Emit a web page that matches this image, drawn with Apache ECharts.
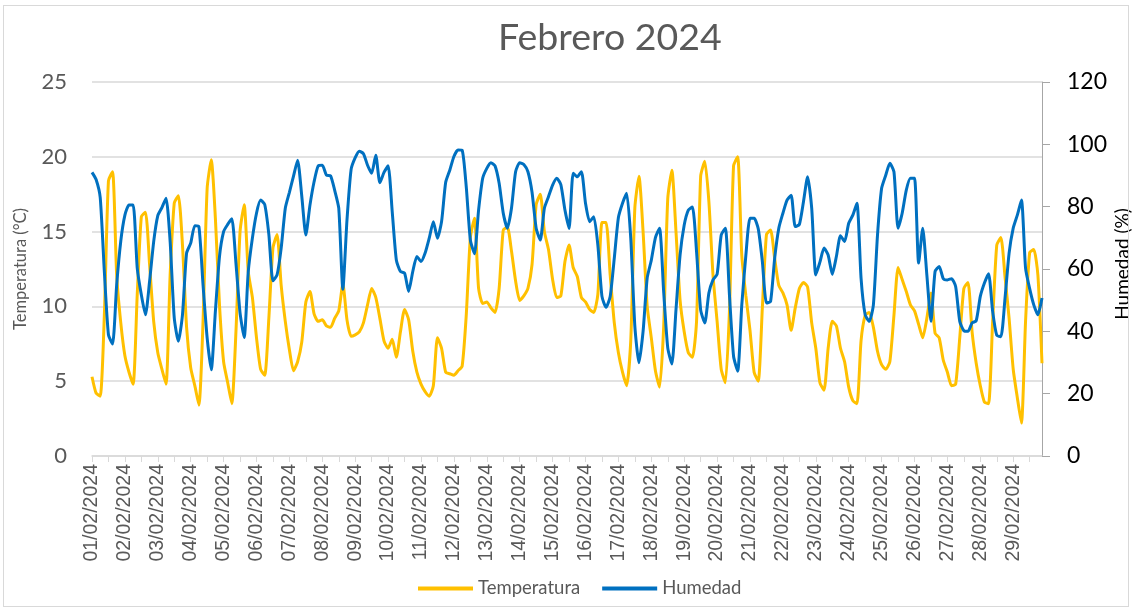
<!DOCTYPE html>
<html>
<head>
<meta charset="UTF-8">
<title>Febrero 2024</title>
<style>
  body { margin: 0; padding: 0; background: #fff; }
  #chart { position: absolute; left: 0; top: 0; width: 1132px; height: 610px; }
  #frame { position: absolute; left: 3px; top: 5px; width: 1126px; height: 602px; border: 1px solid #d9d9d9; box-sizing: border-box; pointer-events: none; }
</style>
</head>
<body>
<div id="chart"></div>
<div id="frame"></div>
<script src="https://cdn.jsdelivr.net/npm/echarts@6/dist/echarts.min.js"></script>
<script>
// dias del mes y horas de lectura (cada 3 h)
var dias = ['01','02','03','04','05','06','07','08','09','10','11','12','13','14','15',
            '16','17','18','19','20','21','22','23','24','25','26','27','28','29'];
var horas = ['00:00','03:00','06:00','09:00','12:00','15:00','18:00','21:00'];

// temperatura (°C), una fila por dia
var temperatura = [
  5.3, 4.2, 4.0, 9.4, 18.4, 19.0, 12.1, 8.9,
  6.7, 5.6, 4.8, 10.8, 16.0, 16.3, 12.8, 9.0,
  6.9, 5.8, 4.8, 12.1, 16.9, 17.4, 14.1, 8.6,
  5.9, 4.7, 3.4, 9.0, 17.9, 19.8, 15.9, 10.1,
  6.3, 4.9, 3.5, 8.3, 15.0, 16.8, 12.3, 10.6,
  7.9, 5.8, 5.4, 9.2, 13.9, 14.8, 11.4, 9.0,
  7.1, 5.7, 6.3, 7.6, 10.3, 11.0, 9.5, 9.0,
  9.1, 8.7, 8.6, 9.2, 9.7, 11.5, 9.1, 8.0,
  8.1, 8.3, 8.9, 10.1, 11.2, 10.6, 9.2, 7.7,
  7.2, 7.8, 6.6, 8.3, 9.8, 9.1, 7.0, 5.6,
  4.8, 4.3, 4.0, 4.7, 7.9, 7.2, 5.6, 5.5,
  5.4, 5.7, 6.0, 9.4, 14.6, 15.9, 11.2, 10.2,
  10.3, 9.9, 9.6, 11.2, 15.1, 15.3, 13.7, 11.7,
  10.4, 10.7, 11.2, 12.8, 16.8, 17.5, 15.0, 13.8,
  11.8, 10.6, 10.7, 13.0, 14.1, 12.6, 12.0, 10.6,
  10.3, 9.8, 9.6, 10.8, 15.6, 15.6, 12.1, 8.9,
  6.9, 5.6, 4.7, 7.7, 16.6, 18.7, 15.0, 10.0,
  7.9, 5.7, 4.6, 8.6, 17.2, 19.1, 15.0, 10.4,
  8.3, 6.9, 6.6, 9.0, 18.7, 19.7, 17.0, 12.1,
  9.0, 5.8, 4.9, 9.7, 19.4, 20.0, 13.4, 10.7,
  8.4, 5.6, 5.0, 9.9, 14.8, 15.1, 13.2, 11.4,
  10.9, 10.1, 8.4, 9.9, 11.2, 11.6, 11.3, 8.9,
  7.2, 4.9, 4.4, 7.2, 9.0, 8.7, 7.2, 6.3,
  4.6, 3.7, 3.5, 7.7, 9.4, 9.6, 8.6, 7.0,
  6.1, 5.8, 6.3, 9.4, 12.6, 11.8, 11.0, 10.1,
  9.7, 8.8, 7.9, 9.2, 10.9, 8.2, 7.9, 6.4,
  5.6, 4.7, 4.8, 7.9, 11.2, 11.6, 8.3, 6.2,
  4.7, 3.6, 3.5, 9.0, 14.1, 14.6, 12.0, 9.2,
  5.8, 3.9, 2.2, 9.0, 13.6, 13.8, 12.1, 6.2
];

// humedad relativa (%), una fila por dia
var humedad = [
  91.0, 88.7, 82.9, 59.2, 38.9, 35.9, 54.9, 69.0,
  77.3, 80.5, 80.5, 60.3, 51.7, 45.3, 56.0, 68.8,
  77.1, 79.7, 82.7, 68.8, 44.3, 36.8, 45.3, 65.1,
  68.3, 73.9, 73.6, 54.9, 37.9, 27.7, 46.4, 64.0,
  72.0, 74.3, 76.1, 61.9, 45.9, 38.0, 59.2, 69.9,
  77.9, 82.1, 80.7, 71.1, 56.2, 58.1, 66.7, 79.5,
  84.6, 89.8, 94.9, 83.5, 70.9, 80.5, 88.0, 93.1,
  93.3, 90.1, 89.9, 85.3, 79.5, 53.5, 75.7, 91.9,
  95.7, 97.8, 97.0, 93.3, 90.7, 96.5, 87.7, 91.0,
  93.1, 78.4, 62.9, 59.2, 58.7, 52.8, 59.2, 64.0,
  62.4, 65.1, 69.9, 75.2, 69.9, 75.2, 87.8, 91.7,
  96.1, 98.2, 98.1, 86.4, 69.3, 64.9, 78.9, 89.1,
  92.3, 94.1, 93.1, 87.5, 77.9, 73.1, 79.5, 91.2,
  94.1, 93.5, 91.2, 84.6, 73.1, 69.3, 79.5, 83.2,
  86.9, 89.1, 87.1, 78.9, 73.0, 90.7, 89.6, 91.2,
  81.1, 75.2, 76.8, 67.7, 51.2, 47.7, 51.2, 63.5,
  76.5, 81.1, 84.3, 69.9, 41.6, 29.9, 40.0, 57.1,
  62.8, 70.1, 73.1, 52.8, 34.7, 29.5, 46.9, 64.5,
  74.1, 78.9, 79.9, 65.6, 46.9, 42.7, 52.3, 56.5,
  58.3, 70.9, 73.1, 51.7, 32.0, 27.2, 48.5, 64.5,
  76.3, 76.3, 72.9, 62.4, 49.1, 49.6, 63.5, 73.1,
  77.9, 82.1, 83.7, 73.6, 74.3, 81.6, 89.6, 79.5,
  58.1, 62.2, 66.7, 64.5, 58.3, 64.0, 70.7, 68.8,
  74.7, 77.3, 81.1, 57.1, 45.3, 43.2, 48.5, 70.9,
  85.9, 90.1, 93.9, 91.2, 73.1, 77.9, 85.3, 89.1,
  89.1, 61.9, 73.1, 58.1, 43.2, 59.2, 60.8, 56.9,
  56.5, 56.9, 54.4, 43.2, 40.2, 40.0, 42.7, 43.4,
  51.2, 55.5, 58.5, 46.4, 38.7, 38.3, 50.5, 65.1,
  73.1, 77.3, 82.1, 60.3, 53.7, 48.5, 45.3, 50.7
];

var categorias = [];
dias.forEach(function (d) {
  horas.forEach(function (h) {
    categorias.push(d + '/02/2024 ' + h);
  });
});

var chart = echarts.init(document.getElementById('chart'));

var option = {
  animation: false,
  textStyle: { fontFamily: 'Lato' },
  title: {
    text: 'Febrero 2024',
    left: 493,
    top: 14,
    textStyle: { fontSize: 37.5, fontWeight: 'normal', color: '#595959', fontFamily: 'Lato' }
  },
  legend: {
    data: ['Temperatura', 'Humedad'],
    bottom: 7,
    left: 413,
    icon: 'rect',
    itemWidth: 55,
    itemHeight: 4,
    itemGap: 22,
    textStyle: { fontSize: 18.5, color: '#595959', fontFamily: 'Lato' }
  },
  // titulo del eje derecho, puesto a mano
  graphic: [{
    type: 'text',
    x: 1123,
    y: 264,
    rotation: Math.PI / 2,
    style: {
      text: 'Humedad (%)',
      fontSize: 19,
      fontFamily: 'Lato',
      fill: '#000',
      textAlign: 'center',
      textVerticalAlign: 'middle'
    }
  }],
  grid: { left: 92, right: 90, top: 82, bottom: 154, outerBoundsMode: 'none' },
  xAxis: {
    type: 'category',
    boundaryGap: false,
    data: categorias,
    axisLine: { lineStyle: { color: '#d9d9d9', width: 1.5 } },
    axisTick: {
      show: true,
      interval: function (i) { return i % 4 === 0; },
      length: 6,
      lineStyle: { color: '#d9d9d9' }
    },
    axisLabel: {
      interval: function (i) { return i % 8 === 0; },
      rotate: 90,
      margin: 8,
      fontSize: 19.5,
      color: '#595959',
      fontFamily: 'Liberation Sans',
      formatter: function (v) { return v.slice(0, 10); }
    }
  },
  yAxis: [
    {
      type: 'value',
      min: 0, max: 25, interval: 5,
      name: 'Temperatura (°C)',
      nameLocation: 'middle',
      nameRotate: 90,
      nameGap: 63,
      nameTextStyle: { fontSize: 16.5, color: '#595959' },
      axisLine: { show: false },
      axisTick: { show: false },
      axisLabel: { fontSize: 22, color: '#595959', margin: 25 },
      splitLine: { lineStyle: { color: '#d9d9d9', width: 1.5 } }
    },
    {
      type: 'value',
      position: 'right',
      min: 0, max: 120, interval: 20,
      axisLine: { show: true, lineStyle: { color: '#a6a6a6' } },
      axisTick: { show: true, length: 8, lineStyle: { color: '#a6a6a6' } },
      axisLabel: { fontSize: 23, color: '#000', margin: 25 },
      splitLine: { show: false }
    }
  ],
  series: [
    {
      name: 'Temperatura',
      type: 'line',
      yAxisIndex: 0,
      data: temperatura,
      showSymbol: false,
      smooth: 0.2,
      lineStyle: { width: 3, color: '#FFC000' },
      itemStyle: { color: '#FFC000' }
    },
    {
      name: 'Humedad',
      type: 'line',
      yAxisIndex: 1,
      data: humedad,
      showSymbol: false,
      smooth: 0.2,
      lineStyle: { width: 3, color: '#0070C0' },
      itemStyle: { color: '#0070C0' }
    }
  ]
};

chart.setOption(option);
</script>
</body>
</html>
